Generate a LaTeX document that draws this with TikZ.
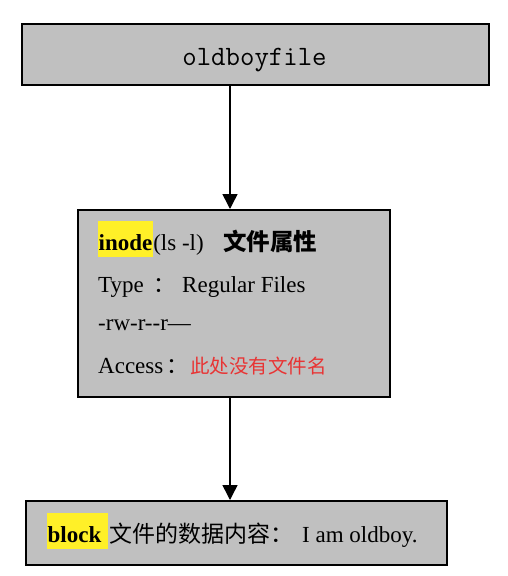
\documentclass[tikz,border=0pt]{standalone}
\usepackage{fontspec}
\setmainfont{Liberation Serif}
\newfontfamily\titlefont{Latin Modern Mono}
\newfontfamily\cjk{Noto Sans CJK SC}
\usetikzlibrary{arrows.meta}
\definecolor{boxgray}{RGB}{192,192,192}
\definecolor{hiyellow}{RGB}{255,240,40}
\definecolor{redtxt}{RGB}{232,52,52}
\tikzset{
  panel/.style={draw=black, line width=2pt, fill=boxgray, rectangle, inner sep=0pt},
  txt/.style={anchor=base west, inner sep=0pt, font=\fontsize{23}{23}\selectfont},
  hl/.style={anchor=base west, fill=hiyellow, inner xsep=0.5pt, inner ysep=0pt,
             text height=29pt, text depth=7pt, font=\fontsize{23}{23}\selectfont\bfseries},
  link/.style={line width=1.5pt, -{Triangle[length=15pt,width=15pt]}}
}
\begin{document}
\begin{tikzpicture}[x=1pt,y=-1pt]
\useasboundingbox (0,0) rectangle (508,576);
\fill[white] (0,0) rectangle (508,576);
% boxes
\node[panel, minimum width=467pt, minimum height=61pt] (file) at (255.5,54.5) {};
\node[panel, minimum width=312pt, minimum height=187pt] (inode) at (234,303.5) {};
\node[panel, minimum width=421pt, minimum height=64pt] (block) at (236.5,533) {};
% title
\node[anchor=base, inner sep=0pt, font=\titlefont\fontsize{28}{28}\selectfont] (ftitle) at (254.5,65) {oldboyfile};
% inode lines
\node[hl] (hinode) at (98,250) {inode};
\node[txt, anchor=base west] (l1) at (hinode.base east) {(ls -l)};
\node[txt, font=\cjk\bfseries\fontsize{23.5}{23.5}\selectfont] (l1c) at (223,250) {文件属性};
\node[txt] (l2a) at (98,292) {Type};
\node[txt, font=\cjk\fontsize{22}{22}\selectfont] (l2b) at (153,292) {：};
\node[txt] (l2c) at (182,292) {Regular Files};
\node[txt] (l3) at (98,330) {-rw-r-{}-r—};
\node[txt] (l4a) at (98,373) {Access};
\node[txt, font=\cjk\fontsize{22}{22}\selectfont] (l4b) at (166,373) {：};
\node[txt, text=redtxt, font=\cjk\fontsize{19.5}{19.5}\selectfont] (l4c) at (190,373) {此处没有文件名};
% block line
\node[hl] (hblock) at (47,542) {block\kern6pt};
\node[txt, font=\cjk\fontsize{23}{23}\selectfont] (b2) at (109,542) {文件的数据内容：};
\node[txt] (b3) at (302,542) {I am oldboy.};
% connectors
\draw[link] (file.south -| 230,0) -- (inode.north -| 230,0);
\draw[link] (inode.south -| 230,0) -- (block.north -| 230,0);
\end{tikzpicture}
\end{document}
